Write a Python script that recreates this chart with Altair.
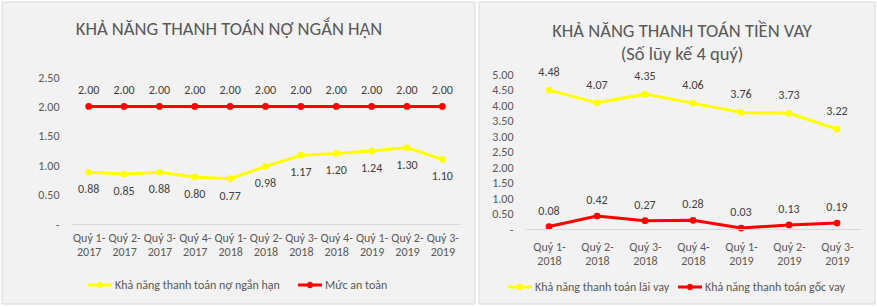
import altair as alt
import pandas as pd

FONT = "Calibri, Carlito, Lato, sans-serif"
GREY_TEXT = "#595959"
LABEL_TEXT = "#404040"
YELLOW = "#FFFF00"
RED = "#FF0000"

# ---------------- data ----------------
left_categories = ["Quý 1-2017", "Quý 2-2017", "Quý 3-2017", "Quý 4-2017",
                   "Quý 1-2018", "Quý 2-2018", "Quý 3-2018", "Quý 4-2018",
                   "Quý 1-2019", "Quý 2-2019", "Quý 3-2019"]
left_short_term = [0.88, 0.85, 0.88, 0.80, 0.77, 0.98, 1.17, 1.20, 1.24, 1.30, 1.10]
left_safe_level = [2.00, 2.00, 2.00, 2.00, 2.00, 2.00, 2.00, 2.00, 2.00, 2.00, 2.00]
left_series = ["Khả năng thanh toán nợ ngắn hạn", "Mức an toàn"]
left_yticks = [0, 0.5, 1.0, 1.5, 2.0, 2.5]
left_title = ["KHẢ NĂNG THANH TOÁN NỢ NGẮN HẠN"]

right_categories = ["Quý 1-2018", "Quý 2-2018", "Quý 3-2018", "Quý 4-2018",
                    "Quý 1-2019", "Quý 2-2019", "Quý 3-2019"]
right_interest = [4.48, 4.07, 4.35, 4.06, 3.76, 3.73, 3.22]
right_principal = [0.08, 0.42, 0.27, 0.28, 0.03, 0.13, 0.19]
right_series = ["Khả năng thanh toán lãi vay", "Khả năng thanh toán gốc vay"]
right_yticks = [0, 0.5, 1.0, 1.5, 2.0, 2.5, 3.0, 3.5, 4.0, 4.5, 5.0]
right_title = ["KHẢ NĂNG THANH TOÁN TIỀN VAY", "(Số lũy kế 4 quý)"]

LEGEND_PATH = ("M-1,-0.12L1,-0.12L1,0.12L-1,0.12Z "
               "M-0.27,0A0.27,0.27 0 0,1 0.27,0A0.27,0.27 0 0,1 -0.27,0Z")

NBSP = "\u00a0"
Y_LABEL_EXPR = ("datum.value == 0 ? '-" + NBSP * 4 + "' : format(datum.value, '.2f')")
X_LABEL_EXPR = "[split(datum.label, '-')[0] + '-', split(datum.label, '-')[1]]"


def long_frame(categories, series, values_a, values_b):
    rows = []
    for c, a, b in zip(categories, values_a, values_b):
        rows.append({"cat": c, "series": series[0], "v": a})
        rows.append({"cat": c, "series": series[1], "v": b})
    return pd.DataFrame(rows)


def box_layer(x1, x2, y1, y2, fill, stroke):
    kw = dict(fill=fill)
    if stroke:
        kw.update(stroke=stroke, strokeWidth=1)
    else:
        kw.update(strokeWidth=0)
    return alt.Chart(pd.DataFrame({"k": [0]})).mark_rect(**kw).encode(
        x=alt.value(x1), x2=alt.value(x2), y=alt.value(y1), y2=alt.value(y2)
    )


def title_layers(lines, cx, y0, line_h):
    out = []
    for i, t in enumerate(lines):
        out.append(
            alt.Chart(pd.DataFrame({"k": [0]})).mark_text(
                font=FONT, fontSize=18.5, color=GREY_TEXT, align="center", baseline="middle"
            ).encode(x=alt.value(cx), y=alt.value(y0 + i * line_h), text=alt.value(t))
        )
    return out


def panel(df, categories, series, yticks, ymax, width, height, titles,
          label_dy, x_label_pad, legend_x, legend_y, legend_gap, boxes):
    x_enc = alt.X("cat:N", sort=categories, title=None,
                  scale=alt.Scale(paddingInner=0, paddingOuter=0.5),
                  axis=alt.Axis(labelAngle=0, ticks=False, domainColor="#d9d9d9",
                                labelColor=GREY_TEXT, labelFont=FONT, labelFontSize=12,
                                labelPadding=x_label_pad, labelLineHeight=14.5,
                                labelExpr=X_LABEL_EXPR, grid=False, zindex=1))
    y_enc = alt.Y("v:Q", title=None,
                  scale=alt.Scale(domain=[0, ymax], nice=False, zero=True),
                  axis=alt.Axis(values=yticks, labelExpr=Y_LABEL_EXPR, domain=False,
                                ticks=False, grid=False, labelColor=GREY_TEXT,
                                labelFont=FONT, labelFontSize=12, labelPadding=12,
                                zindex=1))
    base = alt.Chart(df).encode(x=x_enc, y=y_enc)
    line_layers = []
    for s, col in zip(series, [YELLOW, RED]):
        line_layers.append(
            base.transform_filter(alt.datum.series == s).mark_line(strokeWidth=3, color=col)
        )
    points = base.mark_point(filled=True, size=45, opacity=1).encode(
        color=alt.Color("series:N", scale=alt.Scale(domain=series, range=[YELLOW, RED]),
                        title=None,
                        legend=alt.Legend(orient="none", legendX=legend_x, legendY=legend_y,
                                          direction="horizontal", symbolType=LEGEND_PATH,
                                          symbolSize=576, symbolStrokeWidth=0,
                                          labelFont=FONT, labelFontSize=12,
                                          labelColor=GREY_TEXT, labelOffset=3,
                                          columnPadding=legend_gap, padding=0,
                                          labelLimit=400, zindex=1))
    )
    texts = []
    for s, dy in zip(series, label_dy):
        texts.append(
            base.transform_filter(alt.datum.series == s)
            .mark_text(font=FONT, fontSize=12, color=LABEL_TEXT, dy=dy)
            .encode(text=alt.Text("v:Q", format=".2f"))
        )
    layers = boxes + titles + line_layers + [points] + texts
    return alt.layer(*layers).properties(width=width, height=height)


left_df = long_frame(left_categories, left_series, left_short_term, left_safe_level)
right_df = long_frame(right_categories, right_series, right_interest, right_principal)

# left view origin at page (71, 74); right view origin at page (525, 74)
left = panel(left_df, left_categories, left_series, left_yticks, 150 / 58.8, 389, 150,
             title_layers(left_title, 158, -45, 23),
             [17, -16], 8, 17, 199, 18,
             [box_layer(-71, 806, -74, 233, "#ffffff", None),
              box_layer(-69, 404, -72, 230, "#f2f2f2", "#d9d9d9")])
right = panel(right_df, right_categories, right_series, right_yticks, 5.0, 336, 155,
              title_layers(right_title, 157, -43, 23),
              [-18, -16], 12, -17, 201, 8,
              [box_layer(-46, 350, -72, 230, "#f2f2f2", "#d9d9d9")])

chart = alt.hconcat(left, right, spacing=65, bounds="flush").resolve_scale(
    color="independent").resolve_legend(color="independent").configure(
    background="#ffffff", padding=0).configure_view(stroke=None)

chart.save("out.html", embed_options={"renderer": "svg", "actions": False})
